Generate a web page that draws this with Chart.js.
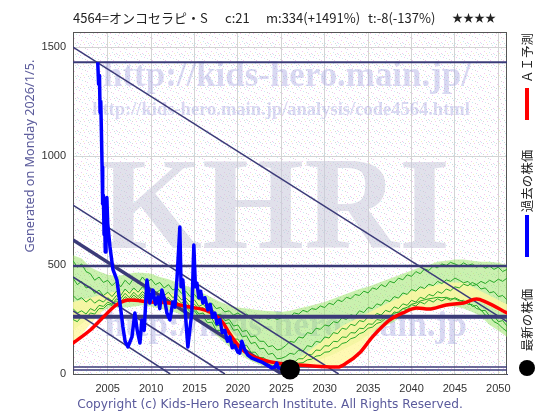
<!DOCTYPE html>
<html>
<head>
<meta charset="utf-8">
<script src="https://cdn.jsdelivr.net/npm/chart.js@4"></script>
<style>
  html, body { margin: 0; padding: 0; background: #fff; }
</style>
</head>
<body>
<canvas id="chart" width="560" height="420"></canvas>
<script>
// ---- data ----
const xTicks = [2005, 2010, 2015, 2020, 2025, 2030, 2035, 2040, 2045, 2050];
const yTicks = [0, 500, 1000, 1500];

// past price (blue)
const blueYears = [2003.85, 2003.95, 2004.05, 2004.12, 2004.2, 2004.28, 2004.35, 2004.42, 2004.5, 2004.58,
  2004.65, 2004.72, 2004.8, 2004.9, 2005.0, 2005.26, 2005.6, 2006.06, 2006.41, 2006.75,
  2007.0, 2007.33, 2007.79, 2008.13, 2008.4, 2008.71, 2008.94, 2009.2, 2009.52, 2009.86,
  2010.21, 2010.5, 2010.78, 2011.0, 2011.24, 2011.5, 2011.82, 2012.16, 2012.5, 2012.74,
  2013.0, 2013.31, 2013.45, 2013.66, 2014.0, 2014.23, 2014.45, 2014.69, 2014.92, 2015.1,
  2015.27, 2015.5, 2015.7, 2015.96, 2016.2, 2016.53, 2016.8, 2017.1, 2017.34, 2017.6,
  2017.92, 2018.2, 2018.49, 2018.8, 2019.07, 2019.35, 2019.64, 2020.0, 2020.22, 2020.45,
  2020.79, 2021.14, 2021.6, 2022.17, 2022.75, 2023.32, 2023.9, 2024.25, 2024.48, 2024.6,
  2025.0, 2025.4];
const blueValues = [1430, 1330, 1370, 1200, 1250, 1100, 950, 780, 820, 640,
  700, 560, 640, 810, 690, 583, 480, 431, 326, 216,
  150, 124, 170, 280, 200, 142, 248, 200, 431, 326,
  385, 320, 353, 300, 385, 350, 280, 248, 330, 307,
  450, 674, 400, 431, 250, 124, 200, 280, 592, 400,
  417, 350, 380, 326, 350, 294, 320, 260, 280, 230,
  250, 190, 200, 150, 170, 120, 130, 100, 96, 150,
  110, 87, 73, 64, 55, 41, 28, 32, 50, 30,
  25, 22];

// AI forecast (red)
const redYears = [2001, 2003, 2004.5, 2006, 2007.5, 2010, 2012, 2014.5, 2016.8, 2018.3,
  2019, 2020.2, 2021.4, 2022.9, 2024.5, 2027, 2029, 2031.5, 2032.5, 2034,
  2035.5, 2037.5, 2039, 2040.6, 2042, 2044, 2046, 2047.5, 2048.6, 2051];
const redValues = [142, 202, 261, 317, 339, 330, 326, 307, 284, 234,
  188, 124, 87, 64, 50, 41, 36, 32, 50, 96,
  170, 248, 280, 303, 298, 317, 326, 344, 330, 280];

// latest price (black dot)
const latestYear = [2026.0];
const latestValue = [21];

// simulated paths (green), half-year grid
const greenYears = [2001, 2001.5, 2002, 2002.5, 2003, 2003.5, 2004, 2004.5, 2005, 2005.5,
  2006, 2006.5, 2007, 2007.5, 2008, 2008.5, 2009, 2009.5, 2010, 2010.5,
  2011, 2011.5, 2012, 2012.5, 2013, 2013.5, 2014, 2014.5, 2015, 2015.5,
  2016, 2016.5, 2017, 2017.5, 2018, 2018.5, 2019, 2019.5, 2020, 2020.5,
  2021, 2021.5, 2022, 2022.5, 2023, 2023.5, 2024, 2024.5, 2025, 2025.5,
  2026, 2026.5, 2027, 2027.5, 2028, 2028.5, 2029, 2029.5, 2030, 2030.5,
  2031, 2031.5, 2032, 2032.5, 2033, 2033.5, 2034, 2034.5, 2035, 2035.5,
  2036, 2036.5, 2037, 2037.5, 2038, 2038.5, 2039, 2039.5, 2040, 2040.5,
  2041, 2041.5, 2042, 2042.5, 2043, 2043.5, 2044, 2044.5, 2045, 2045.5,
  2046, 2046.5, 2047, 2047.5, 2048, 2048.5, 2049, 2049.5, 2050, 2050.5,
  2051];
const green1 = [520, 490, 505, 470, 460, 430, 445, 420, 430,
  405, 425, 400, 430, 410, 440, 415, 445, 420, 435,
  410, 420, 395, 410, 385, 395, 370, 380, 355, 365,
  340, 345, 320, 325, 300, 305, 285, 290, 270, 280,
  265, 275, 260, 270, 255, 265, 250, 262, 250, 258,
  270, 262, 280, 275, 292, 285, 300, 296, 312, 305,
  325, 318, 340, 332, 352, 345, 365, 360, 380, 372,
  395, 388, 410, 400, 425, 418, 440, 432, 455, 448,
  470, 460, 482, 475, 495, 488, 505, 498, 512, 505,
  495, 510, 498, 505, 490, 500, 485, 495, 480, 490,
  470, 480];
const green2 = [440, 410, 425, 395, 400, 370, 385, 360, 375,
  355, 380, 360, 390, 370, 395, 375, 400, 380, 390,
  370, 385, 360, 375, 350, 365, 340, 350, 330, 340,
  310, 320, 295, 300, 270, 275, 245, 250, 220, 225,
  195, 200, 170, 175, 150, 150, 125, 130, 110, 115,
  130, 150, 145, 170, 165, 190, 185, 210, 205, 225,
  220, 240, 235, 258, 250, 272, 265, 290, 282, 305,
  300, 322, 315, 340, 332, 355, 348, 372, 365, 388,
  380, 400, 392, 412, 405, 425, 415, 432, 425, 440,
  430, 418, 425, 405, 410, 390, 395, 372, 378, 355,
  360, 340];
const green3 = [360, 340, 350, 330, 345, 325, 340, 330, 350,
  335, 360, 345, 370, 350, 375, 355, 378, 360, 370,
  350, 362, 340, 352, 330, 345, 325, 335, 310, 320,
  300, 305, 280, 285, 255, 260, 230, 235, 200, 205,
  170, 175, 140, 145, 115, 118, 90, 95, 70, 72,
  80, 95, 90, 110, 105, 130, 125, 150, 145, 170,
  165, 190, 185, 210, 205, 228, 222, 245, 240, 262,
  255, 278, 270, 292, 285, 308, 300, 322, 315, 338,
  330, 352, 345, 365, 358, 378, 370, 390, 382, 400,
  395, 412, 405, 420, 410, 425, 415, 430, 420, 435,
  425, 440];
const green4 = [300, 280, 290, 275, 300, 290, 315, 310, 330,
  320, 345, 330, 355, 340, 362, 345, 365, 350, 360,
  340, 350, 330, 340, 318, 330, 310, 318, 295, 300,
  275, 280, 250, 255, 220, 225, 190, 195, 160, 160,
  130, 132, 100, 100, 75, 75, 55, 55, 40, 40,
  45, 55, 55, 70, 70, 90, 88, 110, 108, 130,
  128, 150, 148, 170, 168, 190, 188, 210, 208, 230,
  228, 250, 246, 268, 262, 285, 280, 300, 296, 318,
  312, 330, 322, 340, 330, 345, 335, 348, 338, 350,
  340, 330, 332, 310, 315, 290, 292, 265, 268, 240,
  245, 220];
const green5 = [250, 240, 265, 255, 280, 275, 300, 300, 320,
  315, 335, 320, 345, 330, 350, 335, 355, 340, 352,
  330, 342, 322, 332, 310, 320, 300, 308, 285, 290,
  262, 265, 235, 238, 200, 200, 165, 165, 135, 132,
  105, 100, 78, 75, 58, 55, 42, 40, 32, 30,
  32, 38, 40, 50, 52, 65, 68, 82, 85, 100,
  102, 118, 122, 140, 145, 162, 168, 185, 192, 210,
  215, 232, 238, 255, 262, 278, 285, 300, 306, 320,
  325, 335, 340, 345, 348, 352, 350, 352, 345, 345,
  335, 338, 320, 318, 300, 295, 270, 265, 240, 230,
  210, 195];

// bands, yearly grid
const bandYears = [2001, 2002, 2003, 2004, 2005, 2006, 2007, 2008, 2009, 2010,
  2011, 2012, 2013, 2014, 2015, 2016, 2017, 2018, 2019, 2020,
  2021, 2022, 2023, 2024, 2025, 2026, 2027, 2028, 2029, 2030,
  2031, 2032, 2033, 2034, 2035, 2036, 2037, 2038, 2039, 2040,
  2041, 2042, 2043, 2044, 2045, 2046, 2047, 2048, 2049, 2050,
  2051];
const greenUpper = [545, 530, 490, 470, 455, 450, 455, 465, 465, 460,
  445, 435, 420, 405, 390, 370, 350, 330, 315, 305,
  300, 295, 290, 288, 285, 290, 300, 310, 320, 330,
  345, 360, 375, 390, 400, 415, 430, 445, 460, 475,
  490, 500, 515, 520, 525, 525, 520, 515, 515, 510,
  500];
const greenLower = [200, 230, 260, 280, 300, 305, 305, 310, 315, 310,
  300, 290, 280, 265, 255, 230, 195, 160, 125, 100,
  70, 50, 35, 25, 20, 25, 35, 45, 60, 75,
  90, 110, 130, 150, 180, 200, 220, 240, 270, 290,
  295, 300, 305, 310, 310, 300, 285, 265, 225, 200,
  170];
const yellowUpper = [330, 340, 350, 360, 370, 380, 380, 385, 385, 380,
  375, 370, 365, 355, 345, 330, 300, 260, 210, 160,
  120, 90, 70, 55, 45, 50, 70, 100, 130, 160,
  190, 220, 240, 260, 280, 300, 320, 340, 360, 380,
  390, 400, 410, 420, 420, 420, 400, 380, 360, 340,
  320];
const yellowLower = [145, 180, 230, 270, 320, 330, 330, 335, 335, 330,
  325, 320, 315, 305, 295, 280, 250, 210, 160, 120,
  85, 60, 45, 35, 30, 28, 30, 30, 32, 33,
  35, 45, 70, 110, 160, 210, 250, 275, 290, 300,
  300, 305, 310, 315, 320, 330, 335, 330, 310, 290,
  270];

// support / resistance lines
const levelValues = [1430, 495, 263, 32, 18];
const levelWidths = [2, 2.5, 4, 1.5, 1.5];
const trendStartYears = [2001, 2001, 2001, 2001, 2001];
const trendStartValues = [1500, 775, 615, 445, 290];
const trendEndYears = [2051, 2031.6, 2025.05, 2018.5, 2012.2];
const trendEndValues = [240, 0, 0, 0, 0];
const trendWidths = [1.5, 1.5, 3.5, 1.5, 1.5];

const NAVY = "#3b3b78";

function pts(xs, ys) {
  return xs.map((x, i) => ({ x: x, y: ys[i] }));
}

// ---- datasets ----
const datasets = [];
function line(data, color, width, order, extra) {
  datasets.push(Object.assign({
    data: data, borderColor: color, borderWidth: width, pointRadius: 0,
    tension: 0, fill: false, order: order
  }, extra || {}));
  return datasets.length - 1;
}

// green band
const gLow = line(pts(bandYears, greenLower), "rgba(0,0,0,0)", 0, 10);
line(pts(bandYears, greenUpper), "rgba(0,0,0,0)", 0, 10,
  { fill: gLow, backgroundColor: "rgba(150,228,95,0.5)" });
// yellow band
const yLow = line(pts(bandYears, yellowLower), "rgba(0,0,0,0)", 0, 9);
line(pts(bandYears, yellowUpper), "rgba(0,0,0,0)", 0, 9,
  { fill: yLow, backgroundColor: "rgba(255,248,160,0.8)" });
// green paths
[green1, green2, green3, green4, green5].forEach((g) => {
  line(pts(greenYears, g), "#27a827", 1, 8);
});
// horizontal levels
levelValues.forEach((v, i) => {
  line(pts([2001, 2051], [v, v]), NAVY, levelWidths[i], 7);
});
// diagonal trend lines
trendStartValues.forEach((v, i) => {
  line(pts([trendStartYears[i], trendEndYears[i]], [v, trendEndValues[i]]), NAVY, trendWidths[i], 7);
});
// AI forecast
line(pts(redYears, redValues), "#ff0000", 3.5, 6,
  { cubicInterpolationMode: "monotone", borderCapStyle: "round", borderJoinStyle: "round" });
// past price
line(pts(blueYears, blueValues), "#0000ff", 3.5, 5,
  { borderJoinStyle: "round" });
// latest price
line(pts(latestYear, latestValue), "#000", 0, 4,
  { showLine: false, pointRadius: 10, pointBackgroundColor: "#000", pointBorderWidth: 0, clip: false });

// ---- decoration plugins ----
// speckled paper behind the plot (fixed dot positions in a small tile)
const dotTile = [
  [1, 2, "#f4c6f0"], [6, 0, "#f4c6f0"], [9, 5, "#f4c6f0"], [3, 7, "#f4c6f0"], [12, 9, "#f4c6f0"],
  [4, 3, "#c8ecf4"], [8, 8, "#c8ecf4"], [0, 10, "#c8ecf4"], [11, 1, "#c8ecf4"],
  [7, 4, "#d6d6d6"], [2, 0, "#d6d6d6"], [10, 10, "#d6d6d6"], [5, 9, "#f4f0c0"]
];
function makeDots() {
  const c = document.createElement("canvas");
  c.width = 13; c.height = 11;
  const g = c.getContext("2d");
  g.fillStyle = "#ffffff"; g.fillRect(0, 0, 13, 11);
  dotTile.forEach((d) => { g.fillStyle = d[2]; g.fillRect(d[0], d[1], 1, 1); });
  return c;
}

function fitSize(ctx, text, font, width) {
  ctx.font = font.replace("{s}", "100px");
  return 100 * width / ctx.measureText(text).width;
}

const bgPlugin = {
  id: "bg",
  beforeDraw(chart) {
    const ctx = chart.ctx, a = chart.chartArea;
    ctx.save();
    ctx.fillStyle = "#fff";
    ctx.fillRect(0, 0, chart.width, chart.height);
    ctx.fillStyle = ctx.createPattern(makeDots(), "repeat");
    ctx.fillRect(a.left, a.top, a.right - a.left, a.bottom - a.top);
    ctx.restore();
  }
};

const watermarkPlugin = {
  id: "watermark",
  beforeDatasetsDraw(chart) {
    const ctx = chart.ctx, a = chart.chartArea;
    ctx.save();
    ctx.beginPath();
    ctx.rect(a.left, a.top, a.right - a.left, a.bottom - a.top);
    ctx.clip();
    ctx.textAlign = "center";
    ctx.textBaseline = "alphabetic";
    const serif = 'bold {s} "Liberation Serif", "DejaVu Serif", serif';

    // KHRI
    let t = "KHRI";
    let s = fitSize(ctx, t, serif, 350);
    ctx.font = serif.replace("{s}", s + "px");
    ctx.fillStyle = "rgba(200,200,218,0.55)";
    ctx.fillText(t, 275, 248);

    ctx.fillStyle = "rgba(160,160,222,0.4)";
    t = "http://kids-hero.main.jp/";
    s = fitSize(ctx, t, serif, 368);
    ctx.font = serif.replace("{s}", s + "px");
    ctx.fillText(t, 287, 86);

    t = "http://kids-hero.main.jp/analysis/code4564.html";
    s = fitSize(ctx, t, serif, 378);
    ctx.font = serif.replace("{s}", s + "px");
    ctx.fillText(t, 281, 115);

    t = "http://kids-hero.main.jp";
    s = fitSize(ctx, t, serif, 362);
    ctx.font = serif.replace("{s}", s + "px");
    ctx.fillText(t, 286, 336);
    ctx.restore();

    // frame
    ctx.save();
    ctx.strokeStyle = "#555";
    ctx.lineWidth = 1;
    ctx.strokeRect(a.left + 0.5, a.top + 0.5, a.right - a.left - 1, a.bottom - a.top);
    ctx.restore();
  }
};

const textPlugin = {
  id: "texts",
  afterDraw(chart) {
    const ctx = chart.ctx;
    ctx.save();
    ctx.textBaseline = "middle";
    ctx.textAlign = "left";
    ctx.fillStyle = "#222";
    ctx.font = '13px "Noto Sans CJK JP", "Noto Sans", sans-serif';
    ctx.fillText("4564=オンコセラピ・S", 73, 18);
    ctx.fillText("c:21", 225, 18);
    ctx.fillText("m:334(+1491%)", 266, 18);
    ctx.fillText("t:-8(-137%)", 368, 18);
    ctx.font = '11px "Noto Sans CJK JP", sans-serif';
    ctx.fillText("★★★★", 452, 18);

    // left vertical note
    const side = '{s} "Noto Sans", sans-serif';
    let t = "Generated on Monday 2026/1/5.";
    let s = fitSize(ctx, t, side, 193);
    ctx.font = side.replace("{s}", s + "px");
    ctx.fillStyle = "#5c5c9c";
    ctx.textAlign = "center";
    ctx.save();
    ctx.translate(30, 156);
    ctx.rotate(-Math.PI / 2);
    ctx.fillText(t, 0, 0);
    ctx.restore();

    // copyright
    const foot = '{s} "DejaVu Sans", sans-serif';
    t = "Copyright (c) Kids-Hero Research Institute. All Rights Reserved.";
    s = fitSize(ctx, t, foot, 386);
    ctx.font = foot.replace("{s}", s + "px");
    ctx.fillStyle = "#5a5a9c";
    ctx.fillText(t, 270, 405);

    // right legend
    ctx.fillStyle = "#222";
    ctx.font = '12.5px "Noto Sans CJK JP", sans-serif';
    [["ＡＩ予測", 58], ["過去の株価", 181], ["最新の株価", 320]].forEach((p) => {
      ctx.save();
      ctx.translate(527, p[1]);
      ctx.rotate(-Math.PI / 2);
      ctx.fillText(p[0], 0, 0);
      ctx.restore();
    });
    ctx.lineWidth = 4;
    ctx.strokeStyle = "#ff0000";
    ctx.beginPath(); ctx.moveTo(527, 88); ctx.lineTo(527, 120); ctx.stroke();
    ctx.strokeStyle = "#0000ff";
    ctx.beginPath(); ctx.moveTo(527, 215); ctx.lineTo(527, 257); ctx.stroke();
    ctx.fillStyle = "#000";
    ctx.beginPath(); ctx.arc(527, 368, 8, 0, Math.PI * 2); ctx.fill();
    ctx.restore();
  }
};

// ---- chart ----
const tickFont = { family: '"Liberation Sans", Arial, sans-serif', size: 11 };

new Chart(document.getElementById("chart"), {
  type: "line",
  data: { datasets: datasets },
  options: {
    responsive: false,
    animation: false,
    events: [],
    layout: { padding: { top: 32, right: 53, left: 0, bottom: 0 } },
    plugins: {
      legend: { display: false },
      title: { display: false },
      tooltip: { enabled: false }
    },
    scales: {
      x: {
        type: "linear",
        min: 2001,
        max: 2051,
        afterBuildTicks: (axis) => { axis.ticks = xTicks.map((v) => ({ value: v })); },
        afterFit: (axis) => { axis.height = 46; },
        grid: { color: "#d4d4d4", drawTicks: false },
        border: { color: NAVY, width: 1 },
        ticks: {
          padding: 8, color: "#333", font: tickFont, maxRotation: 0, autoSkip: false,
          callback: (v) => String(v)
        }
      },
      y: {
        type: "linear",
        min: 0,
        max: 1569,
        afterBuildTicks: (axis) => { axis.ticks = yTicks.map((v) => ({ value: v })); },
        afterFit: (axis) => { axis.width = 73; },
        grid: { color: "#d4d4d4", drawTicks: false },
        border: { color: "#333", width: 1 },
        ticks: { padding: 7, color: "#333", font: tickFont, callback: (v) => String(v) }
      }
    }
  },
  plugins: [bgPlugin, watermarkPlugin, textPlugin]
});
</script>
</body>
</html>
